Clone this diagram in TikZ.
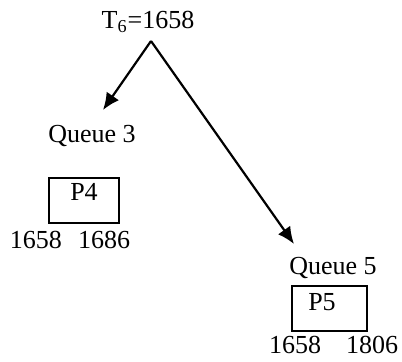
\documentclass[tikz,border=0pt]{standalone}
\usepackage{fontspec}
\setmainfont{Liberation Serif}
\usetikzlibrary{arrows.meta,positioning}

\tikzset{ every node/.style={font=\fontsize{13}{15}\selectfont, inner sep=0pt},
          qbox/.style={draw, line width=1pt, minimum width=35pt, minimum height=22.5pt} }

\begin{document}
\begin{tikzpicture}[x=0.5pt, y=-0.5pt, every edge/.style={draw, line width=1.1pt, -{Latex[length=8.5pt, width=7.5pt]}}]
        \useasboundingbox (0,0) rectangle (402,361);

        \node (t6) at (148,22) {T\textsubscript{6}=1658};
        \coordinate (apex) at (151,41);
        \coordinate (end3) at (103,110);
        \coordinate (end5) at (294,244);

        % queue 3
        \node (q3) at (92,136) {Queue 3};
        \node[qbox, label={[anchor=north, yshift=-3pt]north:P4}] (p4) at (84,200.5) {};
        \node (s4) at (36,240) {1658};
        \node (e4) at (104,240) {1686};

        % queue 5
        \node (q5) at (333,268) {Queue 5};
        \node[qbox, minimum width=37.5pt] (p5) at (329.5,308.5) {};
        \node (p5lbl) at (322,302) {P5};
        \node (s5) at (295,345) {1658};
        \node (e5) at (372,345) {1806};

        \path (apex) edge (end3)
              (apex) edge (end5);
    \end{tikzpicture}
\end{document}
